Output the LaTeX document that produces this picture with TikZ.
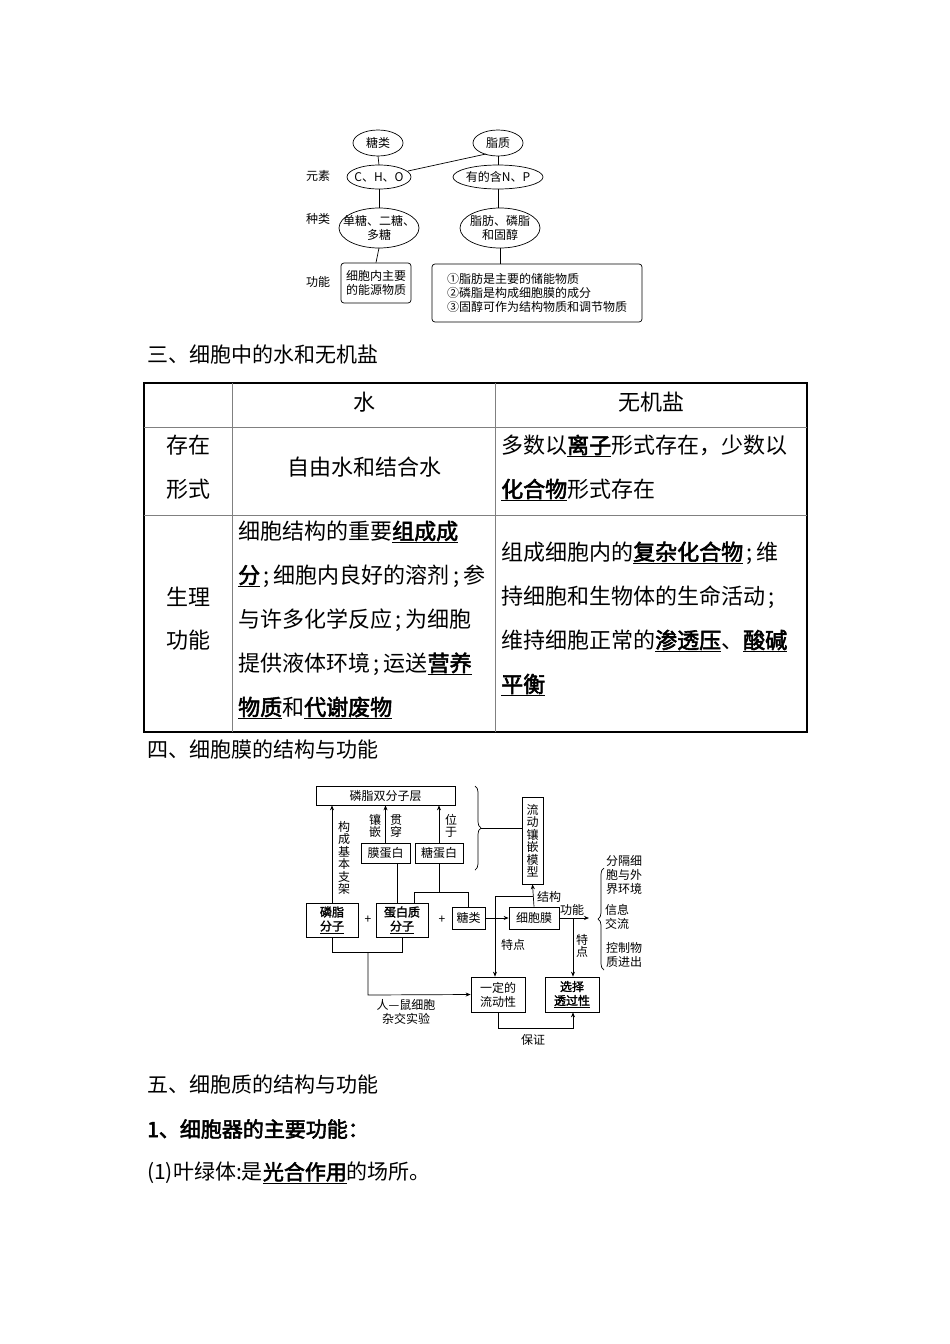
\documentclass[tikz,border=0pt]{standalone}
\usepackage{fontspec}
\setmainfont{Noto Sans CJK SC}[AutoFakeBold=2.5]
\newfontfamily\dfont{Noto Sans CJK SC}[AutoFakeBold=2]
\usetikzlibrary{decorations.pathreplacing,arrows.meta}
\newcommand{\ub}[1]{\underline{\textbf{#1}}}
\newcommand{\sm}{\,;\,}
\begin{document}
\begin{tikzpicture}[x=1pt,y=-1pt,
 dg/.style={font=\dfont\fontsize{12}{14}\selectfont,inner sep=1pt},
 bx/.style={dg,draw,line width=0.7pt,align=center},
 ln/.style={line width=0.7pt},
 ar/.style={line width=0.7pt,-{Stealth[length=5pt,width=4pt]}},
 hd/.style={anchor=west,font=\fontsize{21}{24}\selectfont,inner sep=0pt},
 tb/.style={font=\fontsize{22}{24}\selectfont,inner sep=0pt},
 tl/.style={tb,anchor=west},
 tw/.style={tl,text width=254pt,align=justify},
 vt/.style={dg,align=center,font=\dfont\fontsize{12}{12.5}\selectfont}]
\useasboundingbox (0,0) rectangle (950,1344);
\fill[white] (0,0) rectangle (950,1344);
% ---- top diagram
\draw[ln] (378,143) ellipse (25 and 13); \node[dg] (tl) at (378,143) {糖类};
\draw[ln] (498,143) ellipse (25 and 13); \node[dg] (zz) at (498,143) {脂质};
\draw[ln] (379,177) ellipse (32 and 12); \node[dg] (cho) at (379,177) {C、H、O};
\draw[ln] (498,177) ellipse (45 and 12); \node[dg] (np) at (498,177) {有的含N、P};
\draw[ln] (379,228) ellipse (40 and 20); \node[dg,align=center] (dt) at (379,228) {单糖、二糖、\\多糖};
\draw[ln] (500,228) ellipse (40 and 20); \node[dg,align=center] (zf) at (500,228) {脂肪、磷脂\\和固醇};
\node[dg] at (318,176) {元素};
\node[dg] at (318,219) {种类};
\node[dg] at (318,282) {功能};
\node[bx,rounded corners=3pt,minimum width=70pt,minimum height=40pt] (nl) at (376,283) {细胞内主要\\的能源物质};
\node[bx,rounded corners=3pt,minimum width=210pt,minimum height=58pt,align=left] (big) at (537,293) {①脂肪是主要的储能物质\\②磷脂是构成细胞膜的成分\\③固醇可作为结构物质和调节物质};
\draw[ln] (378,156)--(379,165);
\draw[ln] (486,154)--(408,171);
\draw[ln] (498,156)--(498,165);
\draw[ln] (379,189)--(379,208);
\draw[ln] (498,189)--(498,208);
\draw[ln] (379,248)--(nl.north);
\draw[ln] (500,248)--(500,264);
% ---- headings
\node[hd] at (147,355) {三、细胞中的水和无机盐};
\node[hd] at (147,749) {四、细胞膜的结构与功能};
\node[hd] at (147,1084) {五、细胞质的结构与功能};
\node[hd] at (147,1129) {\textbf{1、细胞器的主要功能：}};
\node[hd] at (147,1173) {(1)叶绿体:是\ub{光合作用}的场所。};
% ---- table
\draw[line width=1.6pt] (144,383) rectangle (807,732);
\draw[line width=0.5pt,gray] (232,383)--(232,732) (495,383)--(495,732) (144,427)--(807,427) (144,515)--(807,515);
\node[tb] at (364,402) {水};
\node[tb] at (651,402) {无机盐};
\node[tb] at (188,445) {存在};
\node[tb] at (188,489) {形式};
\node[tb] at (364,467) {自由水和结合水};
\node[tl] at (501,446) {多数以\ub{离子}形式存在，少数以};
\node[tl] at (501,490) {\ub{化合物}形式存在};
\node[tb] at (188,597) {生理};
\node[tb] at (188,640) {功能};
\node[tl] at (238,532) {细胞结构的重要\ub{组成成}};
\node[tl] at (238,576) {\ub{分}\sm 细胞内良好的溶剂\sm 参};
\node[tl] at (238,620) {与许多化学反应\sm 为细胞};
\node[tl] at (238,664) {提供液体环境\sm 运送\ub{营养}};
\node[tl] at (238,708) {\ub{物质}和\ub{代谢废物}};
\node[tl] at (501,553) {组成细胞内的\ub{复杂化合物}\sm 维};
\node[tl] at (501,597) {持细胞和生物体的生命活动\sm};
\node[tl] at (501,641) {维持细胞正常的\ub{渗透压}、\ub{酸碱}};
\node[tl] at (501,685) {\ub{平衡}};
% ---- membrane diagram
\node[bx,minimum width=139pt,minimum height=19pt] (layer) at (385.5,795.5) {磷脂双分子层};
\node[bx,minimum width=49pt,minimum height=20pt] (mdb) at (385.5,853) {膜蛋白};
\node[bx,minimum width=48pt,minimum height=20pt] (tdb) at (439,853) {糖蛋白};
\node[bx,minimum width=21pt,minimum height=87pt,font=\dfont\fontsize{12}{12.5}\selectfont] (model) at (532.5,840.5) {流\\动\\镶\\嵌\\模\\型};
\node[bx,minimum width=52pt,minimum height=34pt] (lz) at (332,920) {\textbf{磷脂}\\\underline{\textbf{分子}}};
\node[dg] at (368,920) {+};
\node[bx,minimum width=52pt,minimum height=34pt] (dbz) at (402,920) {\textbf{蛋白质}\\\underline{\textbf{分子}}};
\node[dg] at (442,920) {+};
\node[bx,minimum width=33pt,minimum height=22pt] (tl2) at (468.5,918) {糖类};
\node[bx,minimum width=50pt,minimum height=22pt] (xbm) at (534,918) {细胞膜};
\node[bx,minimum width=54pt,minimum height=35pt] (ld) at (498,994.5) {一定的\\流动性};
\node[bx,minimum width=54pt,minimum height=35pt] (xz) at (572,994.5) {\textbf{选择}\\\underline{\textbf{透过性}}};
\draw[ar] (lz.north-|332,0)--(layer.south-|332,0);
\node[vt] at (344,858) {构\\成\\基\\本\\支\\架};
\draw[ar] (mdb.north)--(layer.south-|mdb.north);
\node[vt] at (375,826) {镶\\嵌};
\node[vt] at (396,826) {贯\\穿};
\draw[ar] (tdb.north)--(layer.south-|tdb.north);
\node[vt] at (451,826) {位\\于};
\draw[ln] (dbz.north-|397,0)--(mdb.south-|397,0);
\draw[ln] (tdb.south)--(439,892);
\draw[ln] (dbz.north-|414,0)--(414,892)--(468,892)--(tl2.north-|468,0);
\draw[decorate,decoration={brace,amplitude=6pt},ln] (475,786)--(475,870);
\draw[ln] (481,828)--(model.west|-0,828);
\draw[ar] (tl2.east)--(xbm.west);
\draw[ar] (xbm.north)--(model.south);
\node[dg] at (549,897) {结构};
\draw[ar] (533,896)--(495,896)--(ld.north-|495,0);
\node[dg] at (513,945) {特点};
\coordinate (fe) at (589,918);
\draw[ar] (xbm.east)--(fe);
\node[dg] at (572,910) {功能};
\draw[ar] (573,918)--(xz.north-|573,0);
\node[vt] at (582,946) {特\\点};
\draw[decorate,decoration={brace,amplitude=6pt},ln] (604,970)--(604,868);
\node[dg,align=left] at (624,875) {分隔细\\胞与外\\界环境};
\node[dg,align=left] at (617,917) {信息\\交流};
\node[dg,align=left] at (624,955) {控制物\\质进出};
\draw[ln] (lz.south)--(332,952)--(402,952)--(dbz.south);
\draw[ar] (368,952)--(368,995)--(ld.west);
\node[dg,align=center] at (406,1012) {人—鼠细胞\\杂交实验};
\draw[ar] (ld.south)--(498,1028)--(573,1028)--(xz.south-|573,0);
\node[dg] at (533,1040) {保证};
\end{tikzpicture}
\end{document}
